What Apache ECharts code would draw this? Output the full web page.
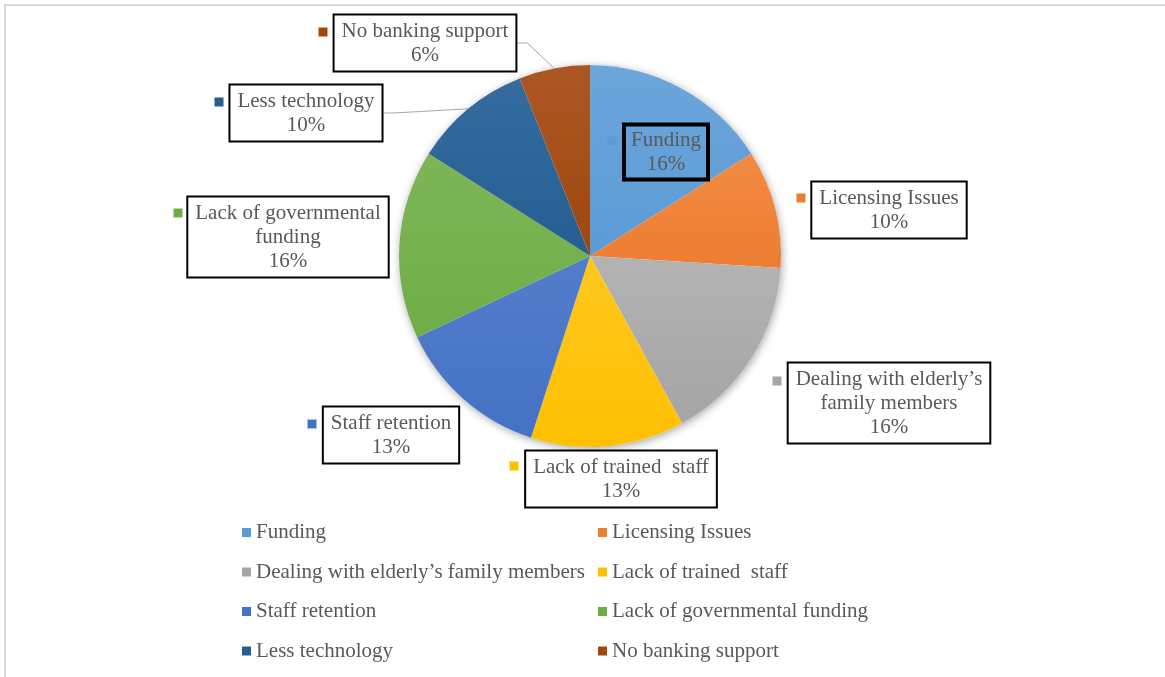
<!DOCTYPE html>
<html>
<head>
<meta charset="utf-8">
<script src="https://cdn.jsdelivr.net/npm/echarts@6/dist/echarts.min.js"></script>
<style>
html,body{margin:0;padding:0;background:#fff;}
#chart{width:1165px;height:677px;}
</style>
</head>
<body>
<div id="chart"></div>
<script>
// ---- data ----
const categories = ['Funding', 'Licensing Issues', 'Dealing with elderly\u2019s family members', 'Lack of trained  staff', 'Staff retention', 'Lack of governmental funding', 'Less technology', 'No banking support'];
const labelNames = ['Funding', 'Licensing Issues', 'Dealing with elderly\u2019s\nfamily members', 'Lack of trained  staff', 'Staff retention', 'Lack of governmental\nfunding', 'Less technology', 'No banking support'];
const values = [16, 10, 16, 13, 13, 16, 10, 6];

// ---- styling / layout ----
const colors = ['#5B9BD5', '#ED7D31', '#A5A5A5', '#FFC000', '#4472C4', '#70AD47', '#255E91', '#9E480E'];
const lightColors = ['#6CA6DB', '#F28B44', '#B3B3B3', '#FFC71F', '#527DCB', '#7DB658', '#346CA0', '#AC5624'];
const labelCenters = [[666, 152], [889, 210], [889, 403], [621, 479], [391, 435], [288, 237], [306, 113], [425, 43]];
const markerCenters = [[612, 141], [801, 198], [777, 381], [514, 466], [312, 424], [178, 213], [219, 102], [323, 32]];
const showLine = [false, false, false, false, false, false, true, true];

const FONT = '"Liberation Serif", "Times New Roman", serif';
const TXT = '#595959';
const center = [590, 256];
const radius = 191;

const chart = echarts.init(document.getElementById('chart'));

const mainData = values.map((v, i) => ({
  value: v,
  name: categories[i],
  itemStyle: {
    color: {
      type: 'linear', x: 0, y: 0, x2: 0, y2: 1,
      colorStops: [{offset: 0, color: lightColors[i]}, {offset: 1, color: colors[i]}]
    }
  },
  label: i === 0 ? {backgroundColor: 'transparent'} : {},
  labelLine: {show: showLine[i]}
}));

const markerData = values.map((v, i) => ({
  value: v,
  name: categories[i],
  label: {backgroundColor: colors[i]}
}));

const legendItems = categories.map((c, i) => ({name: c, itemStyle: {color: colors[i]}}));

const legendCommon = {
  orient: 'vertical',
  top: 517,
  itemWidth: 9,
  itemHeight: 9,
  itemGap: 18.5,
  icon: 'rect',
  selectedMode: false,
  textStyle: {fontFamily: FONT, fontSize: 21, color: TXT, lineHeight: 20}
};

chart.setOption({
  animation: false,
  backgroundColor: '#ffffff',
  graphic: [{
    type: 'rect',
    shape: {x: 5, y: 5, width: 1300, height: 800},
    style: {fill: 'none', stroke: '#d9d9d9', lineWidth: 2},
    silent: true
  }],
  legend: [
    Object.assign({}, legendCommon, {left: 237, data: [0, 2, 4, 6].map(i => legendItems[i])}),
    Object.assign({}, legendCommon, {left: 593, data: [1, 3, 5, 7].map(i => legendItems[i])})
  ],
  series: [
    {
      // soft shadow under the pie
      type: 'pie',
      name: 'shadow',
      center: center,
      radius: radius,
      silent: true,
      z: 1,
      label: {show: false},
      labelLine: {show: false},
      itemStyle: {color: '#ffffff', shadowBlur: 8, shadowColor: 'rgba(0,0,0,0.35)', shadowOffsetX: 1, shadowOffsetY: 2},
      data: [{value: 1, name: '__bg'}]
    },
    {
      type: 'pie',
      name: 'main',
      center: center,
      radius: radius,
      startAngle: 90,
      clockwise: true,
      z: 2,
      itemStyle: {borderWidth: 0},
      label: {
        show: true,
        position: 'outside',
        formatter: p => labelNames[p.dataIndex] + '\n' + p.value + '%',
        fontFamily: FONT,
        fontSize: 21,
        lineHeight: 24,
        color: TXT,
        align: 'center',
        backgroundColor: '#ffffff',
        borderColor: '#000000',
        borderWidth: 2,
        padding: [7, 7, 0, 7]
      },
      labelLine: {show: false, lineStyle: {color: '#a6a6a6', width: 1}, length: 10, length2: 10},
      labelLayout: p => ({
        x: labelCenters[p.dataIndex][0],
        y: labelCenters[p.dataIndex][1],
        align: 'center',
        verticalAlign: 'middle'
      }),
      data: mainData
    },
    {
      type: 'pie',
      name: 'markers',
      center: center,
      radius: radius,
      startAngle: 90,
      clockwise: true,
      silent: true,
      z: 3,
      itemStyle: {color: 'rgba(0,0,0,0)'},
      emphasis: {disabled: true},
      label: {
        show: true,
        position: 'outside',
        formatter: ' ',
        fontSize: 1,
        lineHeight: 9,
        width: 9,
        height: 9,
        padding: 0
      },
      labelLine: {show: false},
      labelLayout: p => ({
        x: markerCenters[p.dataIndex][0],
        y: markerCenters[p.dataIndex][1],
        align: 'center',
        verticalAlign: 'middle'
      }),
      data: markerData
    }
  ]
});
</script>
</body>
</html>
